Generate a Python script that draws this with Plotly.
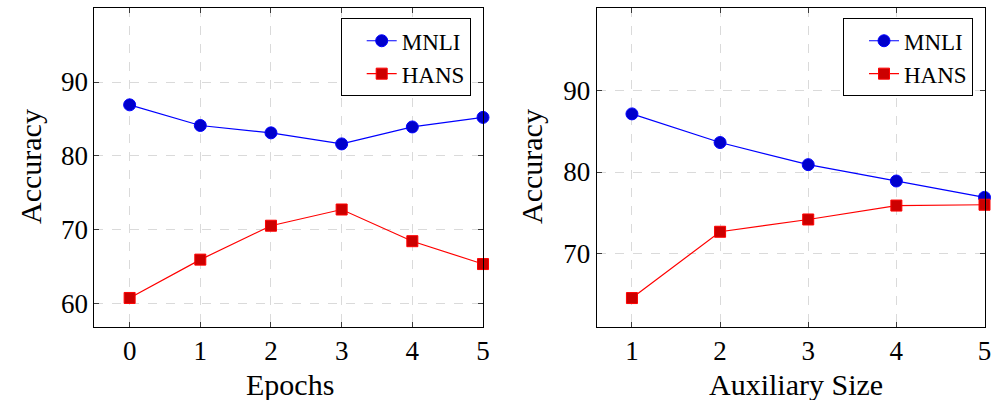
import plotly.graph_objects as go

epochs = [0, 1, 2, 3, 4, 5]
mnli_epochs = [86.9, 84.1, 83.1, 81.6, 83.9, 85.2]
hans_epochs = [60.7, 65.9, 70.5, 72.7, 68.4, 65.3]

aux_size = [1, 2, 3, 4, 5]
mnli_aux = [87.1, 83.6, 80.9, 78.9, 76.9]
hans_aux = [64.6, 72.7, 74.2, 75.9, 76.0]

W, H = 992, 400
SERIF = "Liberation Serif, Times New Roman, serif"

fig = go.Figure()

def px_x(p):
    return p / W

def px_y(p):
    return 1 - p / H

blue_marker = dict(symbol="circle", size=12, color="rgb(0,0,204)", line=dict(color="rgb(0,0,255)", width=1))
red_marker = dict(symbol="square", size=11, color="rgb(204,0,0)", line=dict(color="rgb(255,0,0)", width=1))

fig.add_trace(go.Scatter(x=epochs, y=mnli_epochs, mode="lines+markers", name="MNLI",
                         line=dict(color="rgb(0,0,255)", width=1.2), marker=blue_marker,
                         xaxis="x", yaxis="y", legend="legend", cliponaxis=False))
fig.add_trace(go.Scatter(x=epochs, y=hans_epochs, mode="lines+markers", name="HANS",
                         line=dict(color="rgb(255,0,0)", width=1.2), marker=red_marker,
                         xaxis="x", yaxis="y", legend="legend", cliponaxis=False))
fig.add_trace(go.Scatter(x=aux_size, y=mnli_aux, mode="lines+markers", name="MNLI",
                         line=dict(color="rgb(0,0,255)", width=1.2), marker=blue_marker,
                         xaxis="x2", yaxis="y2", legend="legend2", cliponaxis=False))
fig.add_trace(go.Scatter(x=aux_size, y=hans_aux, mode="lines+markers", name="HANS",
                         line=dict(color="rgb(255,0,0)", width=1.2), marker=red_marker,
                         xaxis="x2", yaxis="y2", legend="legend2", cliponaxis=False))

ydom = [px_y(326.7), px_y(8.3)]

axis_common = dict(
    showline=True, linecolor="black", linewidth=1, mirror="ticks",
    ticks="inside", ticklen=5, tickcolor="rgb(60,60,60)", tickwidth=1,
    showgrid=True, gridcolor="rgb(218,218,218)", griddash="dash", gridwidth=1,
    zeroline=False, automargin=False,
    tickfont=dict(family=SERIF, size=27, color="black"),
)

title_font = dict(family=SERIF, size=30, color="black")

legend_common = dict(
    xanchor="right", yanchor="top",
    bgcolor="white", bordercolor="black", borderwidth=1,
    font=dict(family=SERIF, size=23, color="black"),
    tracegroupgap=0, indentation=20, entrywidth=80,
)

fig.update_layout(
    width=W, height=H,
    margin=dict(l=0, r=0, t=0, b=0),
    paper_bgcolor="white", plot_bgcolor="white",
    xaxis=dict(domain=[px_x(94.3), px_x(483)], range=[-0.5, 5], tickvals=epochs,
               anchor="y", **axis_common),
    yaxis=dict(domain=ydom, range=[56.8, 100], tickvals=[60, 70, 80, 90],
               anchor="x", **axis_common),
    xaxis2=dict(domain=[px_x(596.7), px_x(984.5)], range=[0.6, 5], tickvals=aux_size,
                anchor="y2", **axis_common),
    yaxis2=dict(domain=ydom, range=[61.1, 100], tickvals=[70, 80, 90],
                anchor="x2", **axis_common),
    legend=dict(x=px_x(470.7), y=px_y(18.3), **legend_common),
    legend2=dict(x=px_x(973), y=px_y(18.3), **legend_common),
    showlegend=True,
    annotations=[
        dict(text="Epochs", x=px_x(290), y=px_y(384), xref="paper", yref="paper",
             xanchor="center", yanchor="middle", showarrow=False, font=title_font),
        dict(text="Auxiliary Size", x=px_x(796), y=px_y(384), xref="paper", yref="paper",
             xanchor="center", yanchor="middle", showarrow=False, font=title_font),
        dict(text="Accuracy", x=px_x(30), y=px_y(167), xref="paper", yref="paper",
             xanchor="center", yanchor="middle", showarrow=False, textangle=-90, font=title_font),
        dict(text="Accuracy", x=px_x(531), y=px_y(167), xref="paper", yref="paper",
             xanchor="center", yanchor="middle", showarrow=False, textangle=-90, font=title_font),
    ],
)

fig.write_html("out.html", config={"displayModeBar": False},
               post_script="document.body.style.margin='0';document.body.style.overflow='hidden';")
